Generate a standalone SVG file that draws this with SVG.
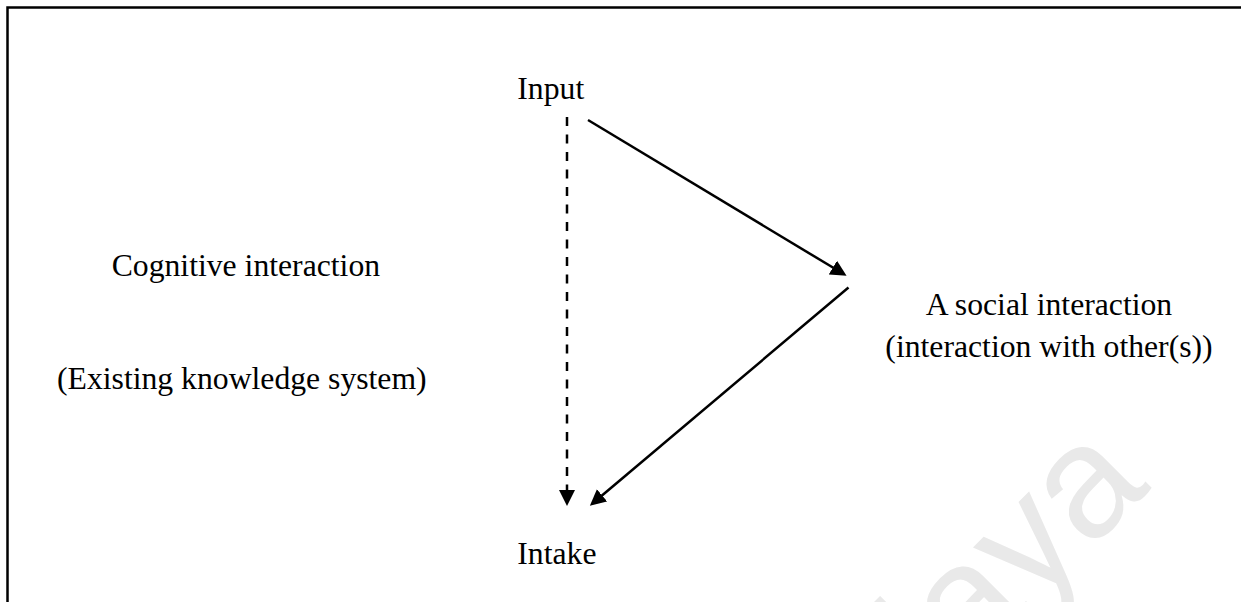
<svg xmlns="http://www.w3.org/2000/svg" width="1241" height="602" viewBox="0 0 1241 602">
  <style>
    .lbl { font-family: "Liberation Serif", "Times New Roman", serif; font-size: 31.7px; fill: #000; }
    .wm { font-family: "Liberation Sans", Arial, sans-serif; font-size: 160px; fill: #e9e9e9; }
    .edge { stroke: #000; stroke-width: 2.5; fill: none; }
    .dash { stroke-dasharray: 9 8.5; }
  </style>
  <defs>
    <marker id="head" markerUnits="userSpaceOnUse" markerWidth="17" markerHeight="17" refX="0.5" refY="8" orient="auto">
      <path d="M0,0 L16,8 L0,16 Z" fill="#000"/>
    </marker>
  </defs>

  <rect x="0" y="0" width="1241" height="602" fill="#fff"/>

  <!-- faint page watermark -->
  <text class="wm" x="1152" y="488" text-anchor="end" transform="rotate(-45 1152 488)">Malaya</text>

  <!-- frame: top and left rules -->
  <path d="M7.5,602 V7.5 H1241" stroke="#000" stroke-width="2.5" fill="none"/>

  <g id="connectors">
    <line class="edge dash" x1="567" y1="117" x2="567" y2="490.5" marker-end="url(#head)"/>
    <line class="edge" x1="588" y1="120" x2="833.3" y2="267.8" marker-end="url(#head)"/>
    <line class="edge" x1="848.5" y1="287.5" x2="601.7" y2="495.7" marker-end="url(#head)"/>
  </g>

  <g id="input">
    <text class="lbl" x="517.3" y="99">Input</text>
  </g>
  <g id="intake">
    <text class="lbl" x="517.3" y="564">Intake</text>
  </g>
  <g id="cognitive">
    <text class="lbl" x="111.7" y="276">Cognitive interaction</text>
    <text class="lbl" x="57" y="389">(Existing knowledge system)</text>
  </g>
  <g id="social">
    <text class="lbl" x="1049" y="315" text-anchor="middle">A social interaction</text>
    <text class="lbl" x="1049" y="357" text-anchor="middle">(interaction with other(s))</text>
  </g>
</svg>
